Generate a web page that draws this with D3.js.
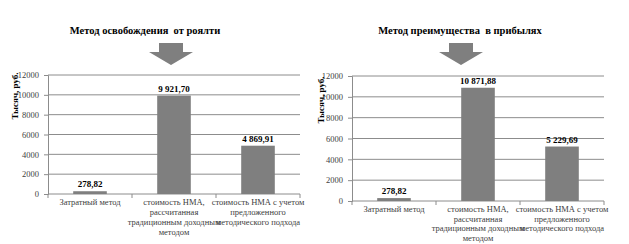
<!DOCTYPE html>
<html>
<head>
<meta charset="utf-8">
<script src="https://cdn.jsdelivr.net/npm/d3@7"></script>
<style>
  body { margin: 0; background: #fff; }
  svg text { font-family: "Liberation Serif", "Times New Roman", serif; }
</style>
</head>
<body>
<script>
// data
var categories = [
    ["Затратный метод"],
    ["стоимость НМА,", "рассчитанная", "традиционным доходным", "методом"],
    ["стоимость НМА с учетом", "предложенного", "методического подхода"]
];
var royaltyValues = [278.82, 9921.70, 4869.91];
var profitValues = [278.82, 10871.88, 5229.69];
var yTicks = [0, 2000, 4000, 6000, 8000, 10000, 12000];
var titles = ["Метод освобождения\u00a0 от роялти", "Метод преимущества\u00a0 в прибылях"];
var yTitle = "Тысяч, руб.";

var ru = d3.formatLocale({decimal: ",", thousands: "\u00a0", grouping: [3], currency: ["", ""]});
var fmt = ru.format(",.2f");

var svg = d3.select("body").append("svg")
    .attr("width", 629)
    .attr("height", 244);

// one panel per method
function drawChart(values, title, box) {
    var g = svg.append("g");

    var x = d3.scaleBand()
        .domain(d3.range(values.length))
        .range([box.left, box.right])
        .paddingInner(0.6)
        .paddingOuter(0.3);
    var xEdge = d3.scaleLinear().domain([0, values.length]).range([box.left, box.right]);
    var y = d3.scaleLinear().domain([0, 12000]).range([box.bottom, box.top]);

    // title
    g.append("text")
        .attr("x", box.titleX)
        .attr("y", 34)
        .attr("text-anchor", "middle")
        .style("font-weight", "bold")
        .style("font-size", "10.5px")
        .text(title);

    // arrow
    var ax = box.arrowX;
    g.append("path")
        .attr("d", "M" + (ax - 12) + ",43 h24 v9 h10 L" + ax + ",65 L" + (ax - 22) + ",52 h10 z")
        .attr("fill", "#7f7f7f");

    // gridlines
    g.selectAll(".grid")
        .data(yTicks.slice(1))
        .enter().append("line")
        .attr("x1", box.left).attr("x2", box.right)
        .attr("y1", function (d) { return y(d); })
        .attr("y2", function (d) { return y(d); })
        .attr("stroke", "#8c8c8c")
        .attr("stroke-width", 1);

    // y axis
    var yAxis = g.append("g")
        .attr("transform", "translate(" + box.left + ",0)")
        .call(d3.axisLeft(y).tickValues(yTicks).tickSize(4).tickPadding(5).tickFormat(d3.format("d")));
    yAxis.select(".domain").attr("stroke", "#8c8c8c");
    yAxis.selectAll("line").attr("stroke", "#8c8c8c");
    yAxis.selectAll("text").attr("fill", "#404040").style("font-size", "8.5px");

    // x axis baseline with category ticks
    g.append("line")
        .attr("x1", box.left).attr("x2", box.right)
        .attr("y1", y(0)).attr("y2", y(0))
        .attr("stroke", "#8c8c8c");
    g.selectAll(".xtick")
        .data(d3.range(values.length + 1))
        .enter().append("line")
        .attr("x1", function (d) { return xEdge(d); })
        .attr("x2", function (d) { return xEdge(d); })
        .attr("y1", y(0)).attr("y2", y(0) + 4)
        .attr("stroke", "#8c8c8c");

    // bars
    g.selectAll(".bar")
        .data(values)
        .enter().append("rect")
        .attr("x", function (d, i) { return x(i); })
        .attr("width", x.bandwidth())
        .attr("y", function (d) { return y(d); })
        .attr("height", function (d) { return y(0) - y(d); })
        .attr("fill", "#7f7f7f");

    // value labels
    g.selectAll(".val")
        .data(values)
        .enter().append("text")
        .attr("x", function (d, i) { return x(i) + x.bandwidth() / 2; })
        .attr("y", function (d) { return y(d) - 4; })
        .attr("text-anchor", "middle")
        .style("font-weight", "bold")
        .style("font-size", "9px")
        .text(function (d) { return fmt(d); });

    // category labels
    var cat = g.selectAll(".cat")
        .data(categories)
        .enter().append("text")
        .attr("text-anchor", "middle")
        .attr("fill", "#404040")
        .style("font-size", "8.5px");
    cat.selectAll("tspan")
        .data(function (d, i) { return d.map(function (s) { return {s: s, i: i}; }); })
        .enter().append("tspan")
        .attr("x", function (d) { return xEdge(d.i + 0.5); })
        .attr("y", function (d, j) { return y(0) + box.catOffset + j * box.catStep; })
        .text(function (d) { return d.s; });

    // y title
    g.append("text")
        .attr("transform", "translate(" + box.yTitleX + "," + box.yTitleY + ") rotate(-90)")
        .attr("text-anchor", "middle")
        .style("font-weight", "bold")
        .style("font-size", "9px")
        .text(yTitle);
}

drawChart(royaltyValues, titles[0], {left: 48, right: 300, top: 75, bottom: 194, titleX: 145, arrowX: 171,
    yTitleX: 18, yTitleY: 96, catOffset: 11, catStep: 10});
drawChart(profitValues, titles[1], {left: 352, right: 604, top: 76, bottom: 201, titleX: 460, arrowX: 461,
    yTitleX: 324, yTitleY: 100, catOffset: 11, catStep: 9.5});
</script>
</body>
</html>
